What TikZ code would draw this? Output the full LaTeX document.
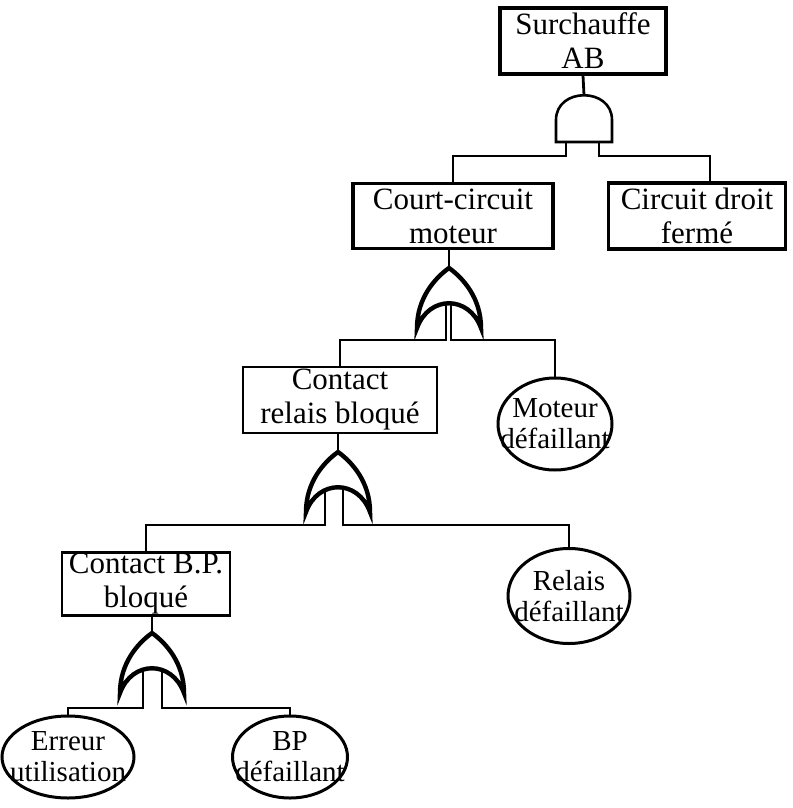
\documentclass[tikz,border=0pt]{standalone}
\usepackage{fontspec}
\setmainfont{Liberation Serif}
\usetikzlibrary{shapes.geometric}
\tikzset{
  box/.style     ={rectangle, draw=black, line width=3.4pt, align=center,
                   inner sep=0pt, font=\fontsize{31}{34}\selectfont},
  thinbox/.style ={box, line width=2.4pt},
  evt/.style     ={ellipse, draw=black, line width=3pt, inner sep=0pt},
  evtxt/.style   ={align=center, inner sep=0pt, font=\fontsize{29}{31}\selectfont},
  wire/.style    ={draw=black, line width=2.8pt},
  gateline/.style={draw=black, line width=4.4pt, line join=miter},
  andline/.style ={draw=black, line width=2.6pt},
  orgate/.pic={
    \draw[gateline] (-32,60) .. controls (-32,30) and (-14,10) .. (0,0)
      .. controls (14,10) and (32,30) .. (32,60)
      .. controls (20,27) and (-20,27) .. cycle;
    \coordinate (-top) at (0,0);
    \coordinate (-base) at (0,36);
  },
  andgate/.pic={
    \draw[andline] (-28,47) -- (-28,25) .. controls (-28,-8) and (28,-8) .. (28,25)
      -- (28,47) -- cycle;
    \coordinate (-top) at (0,0);
    \coordinate (-base) at (0,47);
  }
}

\begin{document}
\begin{tikzpicture}[x=1pt, y=-1pt]
\useasboundingbox (0,0) rectangle (792,808);
% events
\node[box, minimum width=166pt, minimum height=66pt] (top) at (583,41) {Surchauffe\\AB};
\node[box, minimum width=200pt, minimum height=65pt] (ccm) at (453,216) {Court-circuit\\moteur};
\node[box, minimum width=177pt, minimum height=66pt] (cdf) at (697,216) {Circuit droit\\fermé};
\node[thinbox, minimum width=194pt, minimum height=66pt] (crb) at (340,400) {Contact\\relais bloqué};
\node[thinbox, minimum width=168pt, minimum height=63pt] (cbp) at (146,584) {Contact B.P.\\bloqué};
% basic events
\node[evt, minimum width=114pt, minimum height=92pt] (md) at (555,424) {};
\node[evtxt] (md-t) at (md) {Moteur\\défaillant};
\node[evt, minimum width=122pt, minimum height=95pt] (rd) at (569,596) {};
\node[evtxt] (rd-t) at (rd) {Relais\\défaillant};
\node[evt, minimum width=132pt, minimum height=82pt] (eu) at (68,757) {};
\node[evtxt] (eu-t) at (eu) {Erreur\\utilisation};
\node[evt, minimum width=115pt, minimum height=82pt] (bp) at (290,757) {};
\node[evtxt] (bp-t) at (bp) {BP\\défaillant};
% gates
\pic (g0) at (584,95) {andgate};
\pic (g1) at (449,268) {orgate};
\pic (g2) at (338,452) {orgate};
\pic (g3) at (152,633) {orgate};
% connectors
\draw[wire] (top.south) -- (g0-top);
\draw[wire] ([xshift=-18pt]g0-base) -- ++(0,14) -| (ccm.north);
\draw[wire] ([xshift=15pt]g0-base) -- ++(0,14) -| ([xshift=13pt]cdf.north);
\draw[wire] (g1-top |- ccm.south) -- (g1-top);
\draw[wire] ([xshift=-3pt]g1-base) -- ++(0,36) -| (crb.north);
\draw[wire] ([xshift=2pt]g1-base) -- ++(0,36) -| (md.north);
\draw[wire] (g2-top |- crb.south) -- (g2-top);
\draw[wire] ([xshift=-13pt]g2-base) -- ++(0,37) -| (cbp.north);
\draw[wire] ([xshift=5pt]g2-base) -- ++(0,37) -| (rd.north);
\draw[wire] (g3-top |- cbp.south) -- (g3-top);
\draw[wire] ([xshift=-9pt]g3-base) -- ++(0,39) -| (eu.north);
\draw[wire] ([xshift=10pt]g3-base) -- ++(0,39) -| (bp.north);
\end{tikzpicture}
\end{document}
